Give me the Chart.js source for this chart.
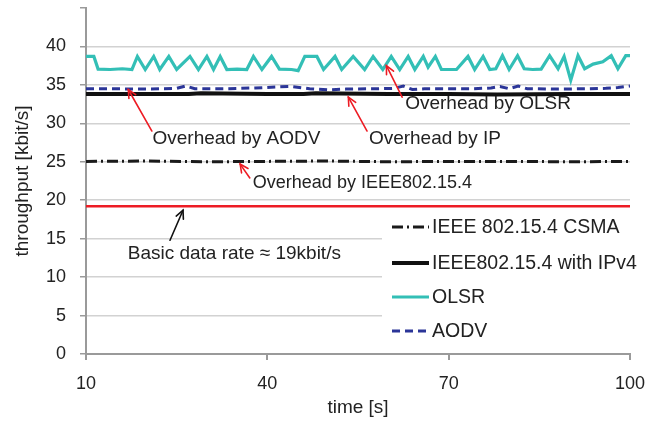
<!DOCTYPE html>
<html><head><meta charset="utf-8">
<script src="https://cdn.jsdelivr.net/npm/chart.js@4/dist/chart.umd.min.js"></script>
<style>html,body{margin:0;padding:0;background:#fff}#wrap{width:652px;height:421px;position:relative}</style>
</head><body><div id="wrap"><canvas id="c"></canvas></div>
<script>
// ---- data ----
const xTicks = [10, 40, 70, 100];
const olsrTime = [10, 11.3, 12.0, 14.0, 16.0, 17.6, 18.5, 19.8, 21.2, 22.2, 23.7, 25.0, 27.2, 28.6, 30.0, 31.1, 32.2, 33.3, 35.0, 36.6, 37.7, 39.1, 40.7, 42.0, 44.0, 45.1, 46.2, 48.2, 49.3, 51.2, 52.3, 54.2, 56.1, 57.5, 59.1, 60.5, 61.9, 63.3, 64.4, 65.8, 66.6, 67.8, 68.8, 71.3, 73.2, 74.3, 75.7, 76.8, 77.8, 78.9, 80.0, 81.4, 82.5, 83.9, 85.3, 86.7, 88.1, 89.1, 90.2, 91.4, 92.5, 93.9, 95.5, 96.9, 98.0, 99.3, 100];
const olsrVals = [38.7, 38.7, 37.05, 37.0, 37.1, 37.0, 38.7, 37.0, 38.7, 37.0, 38.7, 37.0, 38.7, 37.0, 38.7, 37.0, 38.7, 37.0, 37.05, 37.0, 38.7, 37.0, 38.7, 37.05, 37.0, 36.85, 38.7, 38.7, 37.0, 38.7, 37.0, 38.7, 37.0, 38.7, 37.0, 38.7, 37.0, 38.7, 37.0, 38.7, 37.3, 38.7, 37.0, 37.0, 38.7, 37.0, 38.7, 37.0, 37.1, 38.8, 37.0, 38.8, 37.1, 37.0, 37.05, 38.8, 37.1, 38.7, 35.6, 38.8, 37.1, 37.7, 38.0, 38.8, 37.1, 38.8, 38.8];
const aodvTime = [10, 14, 20, 25, 26.5, 28, 33, 38, 42, 44, 47, 50, 53, 58, 61, 62.5, 64, 66, 70, 74, 77, 78.5, 80, 81.5, 83, 88, 93, 96, 98, 100];
const aodvVals = [34.5, 34.5, 34.45, 34.55, 34.85, 34.5, 34.5, 34.6, 34.75, 34.8, 34.5, 34.35, 34.45, 34.5, 34.55, 34.85, 34.4, 34.5, 34.5, 34.5, 34.6, 34.8, 34.5, 34.85, 34.5, 34.45, 34.5, 34.55, 34.65, 34.85];
const ipv4Time = [10, 20, 27, 29, 40, 46, 48, 60, 70, 78, 90, 100];
const ipv4Vals = [33.8, 33.8, 33.8, 33.9, 33.8, 33.8, 33.9, 33.8, 33.8, 33.75, 33.8, 33.8];
const csmaTime = [10, 20, 30, 40, 50, 60, 70, 80, 90, 100];
const csmaVals = [25.05, 25.1, 25.0, 25.05, 25.1, 25.0, 25.05, 25.05, 25.0, 25.05];
const basicTime = [10, 100];
const basicVals = [19.2, 19.2];

const seriesNames = ['IEEE 802.15.4 CSMA', 'IEEE802.15.4 with IPv4', 'OLSR', 'AODV'];
const annTexts = ['Overhead by OLSR', 'Overhead by AODV', 'Overhead by IP', 'Overhead by IEEE802.15.4', 'Basic data rate \u2248 19kbit/s'];

// ---- helpers ----
const pts = (ts, vs) => ts.map((t, i) => ({x: t, y: vs[i]}));
const FONT = "'Liberation Sans', Arial, Helvetica, sans-serif";
const TXT = '#222222';
const AX = '#9a9a9a';
const RED = '#ED1C24';

const annotations = [
  {text: annTexts[0], at: [62.8, 32.5], tail: [62.3, 33.4], tip: [59.7, 37.5], color: RED, size: 19},
  {text: annTexts[1], at: [21.0, 28.05], tail: [20.9, 29.0], tip: [17.0, 34.4], color: RED, size: 19},
  {text: annTexts[2], at: [56.8, 28.05], tail: [56.5, 29.0], tip: [53.4, 33.4], color: RED, size: 19},
  {text: annTexts[3], at: [37.6, 22.3], tail: [37.1, 22.9], tip: [35.5, 24.7], color: RED, size: 18},
  {text: annTexts[4], at: [16.9, 13.1], tail: [23.9, 14.8], tip: [26.05, 18.7], color: '#111111', size: 19}
];

const annPlugin = {
  id: 'annPlugin',
  afterDatasetsDraw(chart) {
    const ctx = chart.ctx, xs = chart.scales.x, ys = chart.scales.y;
    ctx.save();
    annotations.forEach(a => {
      const x1 = xs.getPixelForValue(a.tail[0]), y1 = ys.getPixelForValue(a.tail[1]);
      const x2 = xs.getPixelForValue(a.tip[0]), y2 = ys.getPixelForValue(a.tip[1]);
      ctx.strokeStyle = a.color; ctx.lineWidth = 1.6; ctx.lineCap = 'round';
      ctx.beginPath(); ctx.moveTo(x1, y1); ctx.lineTo(x2, y2); ctx.stroke();
      const ang = Math.atan2(y1 - y2, x1 - x2), L = 9, w = 0.45;
      ctx.beginPath();
      ctx.moveTo(x2 + L * Math.cos(ang + w), y2 + L * Math.sin(ang + w));
      ctx.lineTo(x2, y2);
      ctx.lineTo(x2 + L * Math.cos(ang - w), y2 + L * Math.sin(ang - w));
      ctx.stroke();
      ctx.fillStyle = TXT; ctx.font = a.size + 'px ' + FONT;
      ctx.textAlign = 'left'; ctx.textBaseline = 'middle';
      ctx.fillText(a.text, xs.getPixelForValue(a.at[0]), ys.getPixelForValue(a.at[1]));
    });
    ctx.restore();
  }
};

const legendCfg = {box: [382, 212, 262, 136], x0: 392, x1: 429, tx: 432, rows: [227, 263, 297, 331]};
const legendPlugin = {
  id: 'legendPlugin',
  beforeDatasetsDraw(chart) {
    const ctx = chart.ctx, b = legendCfg.box;
    ctx.save(); ctx.fillStyle = '#ffffff'; ctx.fillRect(b[0], b[1], b[2], b[3]); ctx.restore();
  },
  afterDraw(chart) {
    const ctx = chart.ctx;
    ctx.save();
    const ds = chart.data.datasets.filter(d => seriesNames.includes(d.label));
    ds.forEach((d, i) => {
      const y = legendCfg.rows[i];
      ctx.strokeStyle = d.borderColor; ctx.lineWidth = d.borderWidth;
      ctx.setLineDash(d.borderDash || []);
      ctx.beginPath(); ctx.moveTo(legendCfg.x0, y); ctx.lineTo(legendCfg.x1, y); ctx.stroke();
      ctx.setLineDash([]);
      ctx.fillStyle = TXT; ctx.font = '19.5px ' + FONT;
      ctx.textAlign = 'left'; ctx.textBaseline = 'middle';
      ctx.fillText(d.label, legendCfg.tx, y + 1);
    });
    ctx.restore();
  }
};

const base = {pointRadius: 0, pointHoverRadius: 0, tension: 0, fill: false};
new Chart(document.getElementById('c'), {
  type: 'line',
  data: {
    datasets: [
      Object.assign({label: 'basic', data: pts(basicTime, basicVals), borderColor: RED, borderWidth: 2.5}, base),
      Object.assign({label: seriesNames[0], data: pts(csmaTime, csmaVals), borderColor: '#1a1a1a', borderWidth: 3, borderDash: [11, 4, 2, 4]}, base),
      Object.assign({label: seriesNames[1], data: pts(ipv4Time, ipv4Vals), borderColor: '#111111', borderWidth: 4}, base),
      Object.assign({label: seriesNames[2], data: pts(olsrTime, olsrVals), borderColor: '#33BFB6', borderWidth: 3.2}, base),
      Object.assign({label: seriesNames[3], data: pts(aodvTime, aodvVals), borderColor: '#2B3598', borderWidth: 3, borderDash: [8, 5]}, base)
    ]
  },
  options: {
    responsive: true, maintainAspectRatio: false, animation: false,
    layout: {padding: {top: 8, right: 22, left: 0, bottom: 0}},
    plugins: {legend: {display: false}, tooltip: {enabled: false}},
    scales: {
      x: {
        type: 'linear', min: 10, max: 100,
        afterBuildTicks: s => { s.ticks = xTicks.map(v => ({value: v})); },
        afterFit: s => { s.height = 67; s.paddingLeft = 0; s.paddingRight = 0; },
        border: {color: AX, width: 2},
        grid: {drawOnChartArea: false, drawTicks: true, tickLength: 6, color: AX, lineWidth: 2},
        ticks: {font: {family: FONT, size: 18}, color: TXT, padding: 13, maxRotation: 0, autoSkip: false},
        title: {display: true, text: 'time [s]', font: {family: FONT, size: 19}, color: TXT, padding: {top: 1, bottom: 2}}
      },
      y: {
        min: 0, max: 45,
        ticks: {stepSize: 5, font: {family: FONT, size: 18}, color: TXT, padding: 14,
          callback: v => (v === 45 ? '' : String(v))},
        afterFit: s => { s.width = 86; s.paddingTop = 0; s.paddingBottom = 0; },
        border: {color: AX, width: 2},
        grid: {color: c => (c.tick && c.tick.value === 45 ? 'rgba(0,0,0,0)' : '#d2d2d2'), lineWidth: 1.5,
          tickColor: AX, tickLength: 6, drawTicks: true},
        title: {display: true, text: 'throughput [kbit/s]', font: {family: FONT, size: 19}, color: TXT, padding: {top: 11, bottom: 0}}
      }
    }
  },
  plugins: [legendPlugin, annPlugin]
});
</script>
</body></html>
